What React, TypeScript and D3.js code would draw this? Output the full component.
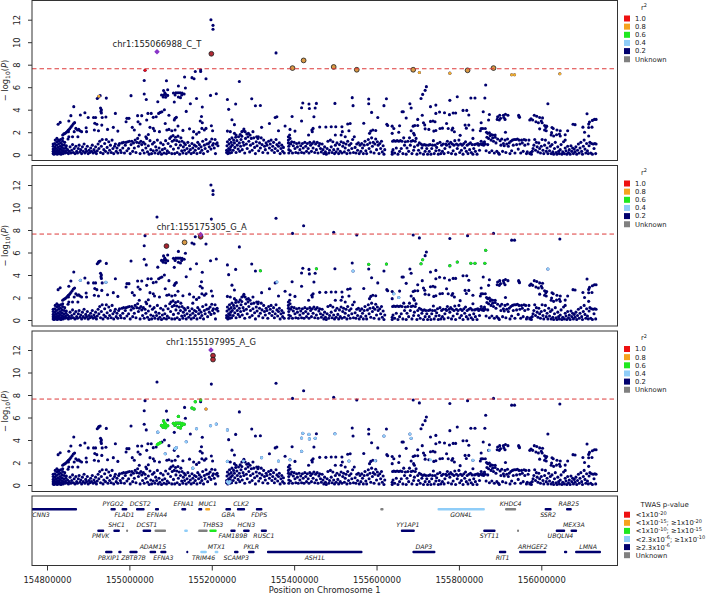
import React, { useEffect, useRef } from 'react';
import * as d3 from 'd3';

// positions are kb past the first tick (154800000)
const startPos = 154800000;
const xTicks = [154800000, 155000000, 155200000, 155400000, 155600000, 155800000, 156000000];
const yTicks = [0, 2, 4, 6, 8, 10, 12];
const gwasLine = 7.64;

type Pt = [number, number];

const snpsUpper: Pt[] = [
  [398, 12], [403, 11.5], [403, 11.15], [267, 9.15], [399, 8.97], [556, 9.05], [596, 7.7], [623, 8.38], [696, 7.8],
  [752, 7.55], [889, 7.55], [904, 7.3], [978, 7.25], [1021, 7.5], [1084, 7.7], [1128, 7.1], [1135, 7.1], [1245, 7.2],
  [238, 7.5], [236, 6.6], [290, 6.57], [334, 6.9], [352, 6.85], [357, 6.75], [360, 7.4], [373, 7.55], [373, 7.4],
  [386, 6.75], [467, 6.5], [336, 5.93], [319, 6.1], [293, 5.78], [283, 5.7], [286, 5.5], [278, 5.3], [283, 5.3],
  [288, 5.36], [293, 5.27], [282, 5.13], [288, 5.1], [269, 4.7], [307, 5.48], [313, 5.5], [318, 5.5], [323, 5.5],
  [328, 5.48], [311, 5.3], [319, 5.13], [327, 5.3], [333, 5.4], [309, 4.68], [324, 5.07], [348, 4.53], [363, 5],
  [377, 4.24], [397, 5.27], [411, 5.42], [438, 4.9], [441, 4.03], [458, 4.5], [497, 4.98], [506, 4.35], [518, 4.38],
  [554, 3.3], [558, 3.38], [595, 3.4], [621, 4.6], [618, 4.18], [636, 4.5], [637, 4.1], [654, 4.56], [651, 4.15],
  [648, 3.38], [618, 3], [699, 4.56], [741, 5.07], [743, 4.36], [144, 5.03], [122, 5], [125, 5.12], [126, 5.2],
  [129, 5.25], [204, 5.25], [236, 5.4], [241, 4.9], [65, 4.27], [130, 4.15], [132, 4], [131, 3.85], [132, 3.7],
  [921, 6.05], [918, 5.72], [912, 5.36], [908, 5], [1065, 6.2], [996, 5.15], [978, 4.83], [1029, 5.04], [1039, 5.04],
  [1063, 5.04], [781, 4.95], [781, 4.53], [824, 4.98], [818, 4.36], [881, 4.53], [884, 4.15], [931, 4.27], [944, 4.41],
  [1216, 4.53],
];

const snpsMidLeft: Pt[] = [
  [92, 3.73], [81, 3.53], [100, 3.3], [113, 3.3], [118, 3.3], [58, 3.47], [53, 3], [166, 3.67], [143, 3.35], [134, 3.3],
  [116, 2.8], [32, 2.87], [27, 2.7], [38, 1.75], [41, 1.85], [44, 1.9], [47, 2], [50, 2.1], [52, 2.2], [55, 2.3],
  [58, 2.45], [61, 2.6], [64, 2.75], [67, 2.85], [70, 2.34], [74, 2.2], [77, 2.25], [80, 2.13], [84, 2.05], [66, 2.05],
  [95, 2.4], [96, 2.05], [62, 1.6], [75, 1.6], [52, 2.05], [53, 1.6], [115, 2.2], [125, 2.13], [121, 2.7], [147, 2.25],
  [133, 2.63], [161, 2.43], [172, 2.1], [194, 3.23], [199, 3.23], [192, 2.93], [207, 2.43], [212, 2.2], [220, 3.47],
  [230, 3.47], [221, 2.93], [226, 2.73], [245, 3.67], [253, 3.67], [242, 3.08], [258, 3.32], [265, 3.38], [271, 3.67],
  [275, 3.76], [279, 3.82], [285, 4], [296, 3.5], [287, 2.78], [311, 3.23], [314, 3.32], [309, 3.08], [318, 2.55],
  [330, 2.16], [346, 2.3], [338, 3.85], [375, 3.4], [372, 3], [377, 2.84], [363, 1.83], [382, 2.2], [386, 2.34],
  [376, 2.34], [399, 2.58], [402, 2.13], [250, 2.43], [258, 2.34], [261, 2.13], [246, 1.8], [224, 1.75], [240, 1.6],
  [273, 2.05], [291, 2.2], [296, 2.25], [303, 2.13], [311, 2.2], [356, 2.05], [369, 2], [354, 1.5],
  [438, 2.1], [445, 2.05], [449, 3.1], [455, 2.67], [455, 1.9], [459, 1.75], [469, 1.8], [473, 2.05], [477, 2.13],
  [478, 2.28], [481, 2.05], [485, 1.84], [489, 1.9], [493, 1.75], [500, 2.05], [509, 1.6], [513, 1.6], [521, 2.43],
  [540, 2.78], [562, 2.13], [578, 2.55], [590, 2.25], [602, 2.1], [589, 1.75], [590, 1.45], [635, 1.75], [643, 2.2],
  [646, 2.34], [644, 2.05], [662, 2.46], [677, 2.46], [690, 2.49], [701, 2.49], [716, 2.49], [730, 2.73], [736, 2.78],
  [733, 2.13], [717, 2.05], [700, 1.75], [724, 1.6], [714, 1.75],
];

const snpsMidRight: Pt[] = [
  [788, 3.76], [862, 3.82], [865, 3.82], [872, 3.26], [803, 3.3], [1311, 3.64], [1010, 3.94], [1019, 3.94], [1024, 3.53],
  [1059, 3.82], [1074, 3.58], [944, 3.67], [953, 3.8], [965, 3.73], [977, 3.56], [986, 3.7], [992, 3.7], [911, 3.5],
  [900, 3.14], [1072, 3.08], [931, 2.96], [937, 3], [942, 2.93], [1094, 3.38], [1099, 3.5], [1108, 3.5], [1113, 3.6],
  [1119, 3.5], [1093, 3.14], [1098, 3.08], [1101, 3.23], [1109, 3.3], [1112, 3.14], [1145, 3.5], [1147, 3.32],
  [1146, 3.4], [1183, 3.5], [1175, 3.2], [1172, 3.08], [1179, 3.08], [1189, 3.42], [1196, 3.3], [1203, 3.27], [1187, 2.93],
  [1193, 2.84], [1200, 3], [1202, 2.84], [1196, 2.3], [1208, 2.6], [1211, 2.42], [1213, 2.54], [1208, 2.2], [1212, 2.13],
  [1226, 2.42], [1229, 2.33], [1238, 2.2], [1246, 2.13], [1225, 1.96], [1224, 1.75], [1230, 1.66], [1237, 1.77],
  [1244, 1.84], [1246, 1.66], [1258, 1.77], [1264, 2.13], [1258, 1.3], [1277, 2.7], [1282, 2.67], [1301, 2.45],
  [1317, 2.9], [1315, 2.72], [1324, 3.05], [1329, 3.14], [1333, 3.14], [1323, 2.45], [1315, 2.42], [1305, 2], [1315, 1.66],
  [769, 2.8], [825, 2.7], [827, 2.6], [838, 2.54], [842, 2.33], [856, 2.57], [838, 1.9], [854, 2], [786, 2.1], [791, 2.2],
  [798, 2.15], [783, 1.9], [889, 2.54], [893, 2.6], [900, 2.6], [884, 2.13], [890, 1.9], [892, 1.75], [914, 2.84],
  [917, 2.65], [918, 2.3], [927, 2.25], [939, 2.1], [944, 2.15], [954, 2.33], [960, 2.36], [970, 2.78], [974, 2.33],
  [983, 2.2], [985, 2.36], [989, 2.04], [1015, 2.63], [1024, 2.63], [1018, 2.36], [1034, 2.2], [1054, 2.84], [1054, 2.33],
  [1058, 2.33], [1052, 2.13], [1064, 2.33], [1067, 2], [1070, 1.9], [1074, 1.95], [1078, 1.8], [1082, 1.75], [1088, 1.75],
  [1113, 2], [1003, 1.72], [1034, 1.45],
];

const snpsLowLeft: Pt[] = [
  [15, 0.1], [15, 0.3], [15, 0.5], [15, 0.75], [15, 0.95], [16, 0.15], [17, 0.05], [18, 0.25], [18, 0.45], [19, 0.7],
  [19, 1], [20, 1.3], [21, 0.1], [22, 0.3], [22, 0.55], [23, 0.85], [24, 1.15], [24, 1.45], [25, 0.05], [26, 0.2],
  [26, 0.4], [27, 0.65], [28, 0.95], [28, 1.3], [29, 1.2], [30, 0.1], [30, 0.3], [31, 0.5], [32, 0.75], [33, 1.05],
  [33, 1.35], [34, 0.05], [35, 0.2], [36, 0.4], [36, 0.65], [37, 0.9], [38, 1.2], [38, 1.45], [39, 0.1], [40, 0.3],
  [41, 0.55], [42, 0.85], [43, 1.1], [44, 0.15], [45, 0.35], [46, 0.6], [47, 0.8], [48, 0.2], [50, 0.45], [51, 1.4],
  [52, 0.1], [54, 0.3], [56, 0.7], [58, 0.15], [60, 0.4], [62, 0.9], [64, 0.2], [66, 0.55], [68, 0.1], [70, 0.75],
  [72, 0.3], [74, 0.15], [76, 0.55], [78, 0.85], [80, 0.25], [82, 0.45], [84, 0.1], [86, 0.7], [88, 0.3], [90, 0.95],
  [92, 0.15], [94, 0.5], [96, 0.3], [98, 0.75], [100, 0.1], [102, 0.4], [104, 0.2], [106, 0.6], [108, 0.3], [110, 0.85],
  [112, 0.15], [114, 0.45], [116, 0.25], [118, 0.7], [120, 0.1], [122, 0.35], [124, 0.95], [126, 0.55], [128, 1.2],
  [130, 0.2], [132, 0.75], [134, 1.35], [136, 0.1], [138, 0.45], [140, 1], [142, 0.3], [144, 1.35], [146, 0.65],
  [148, 0.15], [150, 1.15], [152, 0.4], [154, 0.85], [156, 0.2], [158, 1.3], [160, 0.55], [162, 0.1], [164, 0.75],
  [166, 0.95], [168, 0.3], [170, 0.6], [172, 0.15], [174, 0.85], [176, 1], [178, 0.4], [180, 0.2], [182, 1.05],
  [184, 0.6], [186, 1.1], [188, 0.15], [190, 0.85], [192, 1.1], [194, 0.35], [196, 1.15], [198, 0.55], [200, 1.2],
  [202, 0.1], [204, 0.9], [206, 1.2], [208, 0.3], [210, 1.05], [212, 0.6], [214, 1.3], [216, 0.2], [218, 1.1], [220, 1.45],
  [222, 0.75], [224, 1.05], [226, 0.1], [228, 1.2], [230, 0.9], [232, 0.4], [234, 1.1], [236, 0.15], [238, 0.95],
  [240, 0.6], [242, 1.45], [244, 0.25], [246, 0.8], [248, 0.05], [250, 1.25], [252, 0.45], [254, 0.1], [256, 0.95],
  [258, 0.35], [260, 1.1], [262, 0.15], [264, 0.7], [266, 0.4], [268, 1.3], [270, 0.1], [272, 0.6], [274, 0.25],
  [276, 1.05], [278, 0.05], [280, 0.45], [282, 0.9], [284, 0.15], [286, 0.55], [288, 1.25], [290, 0.1], [292, 0.35],
  [294, 1], [296, 0.2], [298, 1.45], [300, 0.75], [301, 1.6], [303, 0.1], [304, 1.2], [306, 1.7], [307, 0.5], [309, 1.3],
  [310, 0.1], [312, 1.55], [313, 0.9], [315, 1.25], [316, 0.2], [318, 1.65], [319, 0.6], [321, 1.15], [322, 0.05],
  [324, 0.85], [325, 1.5], [327, 0.35], [328, 1.2], [330, 0.15], [331, 0.7], [333, 1.05], [334, 0.4], [336, 0.9],
  [338, 0.1], [340, 0.55], [342, 1.1], [344, 0.25], [346, 0.8], [348, 0.45], [350, 0.1], [352, 1], [354, 0.6], [356, 0.2],
  [358, 0.85], [360, 0.4], [362, 0.75], [364, 0.1], [366, 1.1], [368, 0.55], [370, 0.9], [372, 0.2], [374, 0.7],
  [376, 0.4], [378, 1.2], [380, 0.1], [382, 0.85], [384, 0.55], [386, 1.35], [388, 0.95], [390, 0.3], [392, 1],
  [394, 0.7], [396, 1.15], [398, 0.5], [400, 1.4], [402, 0.85], [404, 1], [406, 0.6], [408, 1.35], [409, 0.1], [411, 0.95],
  [413, 1.05], [415, 0.8],
];

const snpsLowMid: Pt[] = [
  [436, 0.2], [436, 0.4], [437, 0.8], [438, 1.15], [439, 0.1], [440, 0.3], [441, 0.55], [442, 0.95], [443, 1.35],
  [444, 0.15], [445, 0.45], [446, 0.7], [447, 1.1], [448, 0.2], [449, 1.5], [450, 0.85], [452, 0.4], [453, 1.3], [455, 1.05],
  [456, 0.65], [458, 1.55], [459, 0.2], [461, 1.25], [462, 0.85], [464, 0.5], [465, 1.6], [467, 1.05], [468, 0.3],
  [470, 0.75], [471, 1.35], [473, 1.65], [474, 0.45], [476, 1.1], [478, 0.85], [480, 0.15], [482, 1.45], [484, 0.95],
  [486, 0.55], [488, 1.6], [490, 1.2], [492, 0.25], [494, 0.85], [496, 1.45], [498, 0.4], [500, 1], [502, 1.5], [504, 0.65],
  [506, 0.1], [508, 1.15], [510, 0.8], [512, 1.45], [514, 0.35], [516, 1.05], [518, 0.6], [520, 1.5], [522, 0.9],
  [524, 0.2], [526, 1.3], [528, 0.75], [530, 0.45], [532, 1.05], [534, 0.85], [536, 0.15], [538, 1.2], [540, 0.6],
  [542, 0.95], [544, 1.3], [546, 0.4], [548, 0.75], [550, 1.1], [552, 0.2], [554, 0.55], [556, 1.35], [558, 0.9],
  [560, 0.35], [562, 0.75], [564, 1.05], [566, 0.1], [568, 0.55], [570, 0.85], [572, 0.3], [574, 0.65], [576, 0.15],
  [586, 1.6], [586, 1.3], [586, 1.05], [587, 0.75], [587, 0.45], [587, 0.15], [589, 1], [591, 0.35], [592, 0.95],
  [594, 1.15], [596, 0.15], [598, 0.8], [600, 1.1], [602, 0.55], [604, 0.2], [606, 1], [608, 0.7], [610, 0.15],
  [612, 1.05], [614, 0.45], [616, 0.8], [618, 0.2], [620, 1], [622, 0.6], [624, 0.15], [626, 1.1], [628, 0.75],
  [630, 0.3], [632, 1], [634, 0.55], [636, 0.15], [638, 1.1], [640, 0.85], [642, 0.3], [644, 1], [646, 0.6],
  [648, 1.15], [650, 0.2], [652, 0.95], [654, 0.45], [656, 1.1], [658, 0.15], [660, 0.8], [662, 1], [664, 0.55],
  [666, 0.25], [668, 0.95], [670, 0.45], [672, 0.1], [674, 0.7], [676, 0.25], [678, 0.05], [680, 0.55], [682, 1.2],
  [684, 0.15], [686, 0.4], [688, 1.3], [690, 0.7], [692, 0.2], [694, 1.15], [696, 0.45], [698, 0.1], [700, 0.85],
  [702, 0.25], [704, 1.05], [706, 0.5], [708, 0.1], [710, 0.9], [712, 0.3], [714, 1.15], [716, 0.15], [718, 0.75],
  [720, 1.05], [722, 0.25], [724, 0.6], [726, 0.95], [728, 0.1], [730, 1.2], [732, 0.4], [734, 0.85], [736, 0.15],
  [738, 1], [740, 0.55], [742, 1.35], [744, 0.2], [746, 1.6], [748, 0.65],
];

const snpsLowRight: Pt[] = [
  [750, 0.15], [752, 0.95], [754, 0.4], [756, 1.05], [758, 0.1], [760, 0.85], [762, 0.3], [764, 1], [766, 0.6],
  [768, 0.1], [770, 0.85], [772, 1.2], [774, 0.35], [776, 0.1], [778, 0.9], [780, 1.35], [782, 0.55], [784, 1.05],
  [786, 0.25], [788, 1.5], [790, 0.75], [792, 1.1], [794, 0.15], [796, 0.95], [798, 1.4], [800, 0.45], [802, 1.15],
  [804, 0.85], [806, 0.1], [808, 1], [810, 0.55], [812, 1.2], [814, 0.25], [816, 0.8], [818, 0.05], [820, 0.45],
  [838, 0.25], [838, 0.05], [839, 1.2], [840, 0.45], [842, 1.25], [844, 0.15], [846, 1.2], [848, 0.6], [850, 1.25],
  [852, 0.05], [854, 1.2], [856, 0.3], [858, 1.25], [860, 0.55], [862, 1.2], [864, 0.1], [866, 1.5], [868, 0.85],
  [870, 1.15], [872, 0.05], [874, 0.6], [876, 1.2], [878, 0.3], [880, 1.5], [882, 0.85], [884, 1.2], [886, 0.1],
  [888, 1.25], [890, 0.4], [892, 0.7], [894, 1.2], [896, 1.45], [898, 0.05], [900, 0.85], [902, 0.4], [904, 1.05],
  [906, 0.15], [908, 0.95], [910, 0.6], [912, 0.85], [914, 0.05], [916, 0.9], [918, 0.3], [920, 0.85], [922, 0.55],
  [924, 0.05], [926, 0.85], [928, 0.3], [930, 0.9], [932, 0.05], [934, 0.55], [936, 0.85], [938, 1.25], [940, 0.1],
  [942, 0.85], [944, 0.35], [946, 0.65], [948, 1], [950, 0.05], [952, 0.4], [954, 1.1], [956, 0.1], [958, 0.85],
  [960, 0.3], [962, 0.95], [964, 0.1], [966, 0.55], [968, 0.95], [970, 0.85], [972, 1.2], [974, 0.2], [976, 0.95],
  [978, 0.7], [980, 1.1], [982, 0.1], [984, 0.95], [986, 0.35], [988, 0.85], [990, 1.25], [992, 0.05], [994, 0.95],
  [996, 0.55], [998, 0.85], [1000, 1.3], [1002, 0.2], [1004, 0.95], [1006, 0.4], [1008, 0.85], [1010, 0.05], [1012, 1],
  [1014, 0.6], [1016, 1.15], [1018, 0.3], [1020, 0.85], [1022, 0.1], [1024, 0.95], [1026, 0.45], [1028, 1.05],
  [1030, 0.2], [1032, 0.9], [1034, 0.05], [1036, 0.55], [1038, 0.9], [1040, 0.3], [1042, 0.95], [1044, 0.05],
  [1046, 1], [1048, 0.85], [1050, 0.4], [1052, 0.95], [1054, 1.2], [1056, 0.9], [1058, 1], [1060, 0.85], [1062, 1.15],
  [1064, 0.95], [1066, 0.35], [1068, 1.55], [1070, 0.9], [1072, 1.45], [1074, 0.2], [1076, 1.7], [1078, 1.3], [1080, 0.35],
  [1082, 1.5], [1084, 1.2], [1086, 0.15], [1088, 1.55], [1090, 1.05], [1092, 0.3], [1094, 1.4], [1096, 0.15], [1098, 0.05],
  [1100, 1.25], [1102, 0.85], [1104, 1.4], [1106, 0.3], [1108, 1], [1110, 0.8], [1112, 1.3], [1114, 0.2], [1116, 0.95],
  [1118, 1.4], [1120, 0.75], [1122, 1.05], [1124, 0.1], [1126, 1.2], [1128, 0.35], [1130, 1.3], [1132, 0.85], [1134, 1.35],
  [1136, 0.15], [1138, 1.35], [1140, 0.9], [1142, 1.4], [1144, 0.5], [1146, 1.3], [1148, 0.95], [1150, 0.15], [1152, 1.3],
  [1154, 1.05], [1156, 0.3], [1158, 1.35], [1160, 0.85], [1162, 1.3], [1164, 0.1], [1166, 0.25], [1168, 0.95], [1170, 1.3],
  [1172, 0.1], [1174, 0.2], [1176, 0.05], [1178, 0.3], [1180, 0.55], [1182, 0.85], [1184, 1.35], [1186, 0.4], [1188, 1.1],
  [1190, 0.7], [1192, 0.25], [1194, 1.05], [1196, 0.55], [1198, 0.15], [1200, 0.75], [1202, 1.35], [1204, 0.4], [1206, 0.1],
  [1208, 0.85], [1210, 1.3], [1212, 0.3], [1214, 0.6], [1216, 0.1], [1218, 1.05], [1220, 0.35], [1222, 0.75], [1224, 0.1],
  [1226, 0.9], [1228, 0.25], [1230, 0.05], [1232, 0.55], [1234, 1.1], [1236, 0.2], [1238, 0.05], [1240, 0.7], [1242, 0.3],
  [1244, 0.1], [1246, 0.45], [1248, 0.9], [1250, 0.05], [1252, 0.25], [1254, 1.15], [1256, 0.1], [1258, 0.6], [1260, 0.35],
  [1262, 0.05], [1264, 0.75], [1266, 0.2], [1268, 0.45], [1270, 0.05], [1272, 0.8], [1274, 0.3], [1276, 0.6], [1278, 0.1],
  [1280, 0.5], [1282, 0.25], [1284, 0.7], [1286, 0.05], [1288, 0.4], [1290, 0.95], [1292, 0.15], [1294, 0.6], [1296, 1.1],
  [1298, 0.3], [1300, 0.05], [1302, 0.75], [1304, 1.3], [1306, 0.5], [1308, 0.15], [1310, 1], [1312, 0.35], [1314, 0.1],
  [1316, 0.8], [1318, 1.1], [1320, 0.15], [1322, 1], [1324, 0.05], [1326, 0.95], [1328, 0.55], [1330, 1], [1332, 0.1],
  [1333, 0.95],
];

const allSnps = [...snpsLowLeft, ...snpsLowMid, ...snpsLowRight, ...snpsMidLeft, ...snpsMidRight, ...snpsUpper];

// colouring per panel, lead snp and the LD overlays
const leadIds = ['chr1:155066988_C_T', 'chr1:155175305_G_A', 'chr1:155197995_A_G'];
const leadPts: Pt[] = [[267, 9.15], [373, 7.6], [398, 12]];

const p1RingRed: Pt[] = [[399, 8.97]];
const p1RingOrange: Pt[] = [[596, 7.7], [623, 8.38], [696, 7.8], [752, 7.55], [889, 7.55], [1021, 7.5], [1084, 7.7]];
const p1Orange: Pt[] = [[126, 5.2], [904, 7.3], [978, 7.25], [1128, 7.1], [1135, 7.1], [1245, 7.2]];
const p1Red: Pt[] = [[238, 7.5]];

const p2RingRed: Pt[] = [[290, 6.57], [373, 7.4]];
const p2RingOrange: Pt[] = [[334, 6.9]];
const p2Green: Pt[] = [[518, 4.38], [654, 4.56], [781, 4.95], [824, 4.98], [908, 5], [912, 5.36], [978, 4.83], [996, 5.15], [1029, 5.04], [1039, 5.04], [1065, 6.2], [1063, 5.04]];
const p2Blue: Pt[] = [[81, 3.53], [143, 3.35], [558, 3.38], [1216, 4.53], [842, 2.33], [854, 2], [743, 4.36]];

const p3RingRed: Pt[] = [[403, 11.5], [403, 11.15]];
const p3Green: Pt[] = [
  [352, 6.85], [357, 6.75], [360, 7.4], [373, 7.55], [319, 6.1], [283, 5.7], [286, 5.5], [278, 5.3], [283, 5.3], [288, 5.36],
  [293, 5.27], [282, 5.13], [288, 5.1], [307, 5.48], [313, 5.5], [318, 5.5], [323, 5.5], [328, 5.48], [311, 5.3], [319, 5.13],
  [327, 5.3], [333, 5.4], [324, 5.07], [271, 3.67], [275, 3.76], [268, 3.6],
];
const p3Orange: Pt[] = [[386, 6.75]];
const p3Blue: Pt[] = [
  [269, 4.7], [363, 5], [397, 5.27], [411, 5.42], [438, 4.9], [338, 3.85], [314, 3.32], [311, 3.23], [287, 2.78], [354, 1.5],
  [438, 2.1], [441, 0.15], [438, 0.3], [444, 0.3], [477, 2.13], [521, 2.43], [562, 2.13], [590, 2.25], [621, 4.6], [618, 4.18],
  [636, 4.5], [637, 4.1], [651, 4.15], [618, 3], [699, 4.56], [733, 2.13], [818, 4.36], [881, 4.53], [884, 4.15], [797, 2.15],
  [931, 2.25], [1034, 2.2], [1074, 3.08],
];

const r2Labels = ['1.0', '0.8', '0.6', '0.4', '0.2', 'Unknown'];
const legendColors = ['#ee1111', '#f5a31e', '#1fe81f', '#8fcdf8', '#00006e', '#808080'];

// [name, row, start kb, end kb, label side, colour index]
type Gene = [string, number, number, number, number, number];
const genes: Gene[] = [
  ['TCNN3', 0, -111, 73, 1, 4], ['PYGO2', 0, 154, 167, -1, 4], ['FLAD1', 0, 181, 195, 1, 4], ['DCST2', 0, 216, 237, -1, 4],
  ['EFNA4', 0, 262, 272, 1, 4], ['EFNA1', 0, 326, 338, -1, 4], ['', 0, 367, 377, -1, 4], ['MUC1', 0, 384, 396, -1, 1],
  ['GBA', 0, 433, 447, 1, 4], ['CLK2', 0, 461, 481, -1, 4], ['FDPS', 0, 507, 523, 1, 4], ['', 0, 809, 817, 1, 5],
  ['GON4L', 0, 948, 1063, 1, 3], ['KHDC4', 0, 1112, 1139, -1, 5], ['SSR2', 0, 1208, 1225, 1, 4], ['RAB25', 0, 1260, 1274, -1, 4],
  ['PMVK', 1, 122, 139, 1, 4], ['SHC1', 1, 161, 177, -1, 4], ['', 1, 192, 197, 1, 5], ['DCST1', 1, 232, 253, -1, 4],
  ['', 1, 261, 289, 1, 5], ['', 1, 333, 342, 1, 3], ['', 1, 367, 390, 1, 5], ['THBS3', 1, 394, 412, -1, 2],
  ['FAM189B', 1, 445, 458, 1, 4], ['HCN3', 1, 476, 492, -1, 4], ['RUSC1', 1, 519, 534, 1, 4], ['YY1AP1', 1, 859, 893, -1, 4],
  ['SYT11', 1, 1059, 1089, 1, 4], ['', 1, 1141, 1146, 1, 5], ['UBQLN4', 1, 1235, 1258, 1, 4], ['MEX3A', 1, 1271, 1287, -1, 4],
  ['PBXIP1', 2, 141, 159, 1, 4], ['', 2, 173, 181, 1, 4], ['ZBTB7B', 2, 200, 220, 1, 4], ['ADAM15', 2, 249, 265, -1, 4],
  ['EFNA3', 2, 275, 290, 1, 4], ['', 2, 338, 343, 1, 4], ['TRIM46', 2, 372, 388, 1, 3], ['MTX1', 2, 407, 416, -1, 3],
  ['SCAMP3', 2, 454, 465, 1, 4], ['PKLR', 2, 488, 504, -1, 4], ['ASH1L', 2, 534, 766, 1, 4], ['DAP3', 2, 887, 943, -1, 4],
  ['RIT1', 2, 1097, 1115, 1, 4], ['ARHGEF2', 2, 1146, 1212, -1, 4], ['', 2, 1255, 1263, 1, 4], ['LMNA', 2, 1282, 1345, -1, 4],
];

// base text + superscript, pairs in order
const twasLabels: string[][] = [
  ['<1x10', '-20'],
  ['<1x10', '-15', '; \u22651x10', '-20'],
  ['<1x10', '-10', '; \u22651x10', '-15'],
  ['<2.3x10', '-6', '; \u22651x10', '-10'],
  ['\u22652.3x10', '-6'],
  ['Unknown'],
];

const font = '"DejaVu Sans", sans-serif';
const plotLeft = 32;
const plotRight = 617.5;
const panels = [
  { top: 0.5, bottom: 160.5, zero: 154.7, twelve: 19.7, id: 0, labelX: 157, labelY: 44 },
  { top: 165.5, bottom: 326, zero: 320, twelve: 185, id: 1, labelX: 201.7, labelY: 227 },
  { top: 331, bottom: 491.5, zero: 485, twelve: 350, id: 2, labelX: 211, labelY: 342 },
];
const geneTop = 496;
const geneBottom = 565.5;
const rowY = [509.3, 530.7, 552];

export default function App() {
  const svgRef = useRef<SVGSVGElement>(null);

  useEffect(() => {
    if (!svgRef.current) return;
    const svg = d3.select(svgRef.current);
    svg.selectAll('*').remove();

    const x = d3.scaleLinear().domain([154800000, 156000000]).range([47, 541.3]);
    const kbX = (kb: number) => x(startPos + kb * 1000);

    const dots = (g: any, pts: Pt[], y: any, color: string, r: number, ring = false) => {
      g.append('g')
        .selectAll('circle')
        .data(pts)
        .enter()
        .append('circle')
        .attr('cx', (d: Pt) => kbX(d[0]))
        .attr('cy', (d: Pt) => y(d[1]))
        .attr('r', r)
        .attr('fill', color)
        .attr('stroke', ring ? '#1a1a1a' : 'none')
        .attr('stroke-width', ring ? 0.8 : 0);
    };

    panels.forEach(p => {
      const y = d3.scaleLinear().domain([0, 12]).range([p.zero, p.twelve]);
      const g = svg.append('g');

      dots(g, allSnps, y, '#00006e', 1.55);

      if (p.id === 0) {
        dots(g, p1Red, y, '#ee1111', 1.45);
        dots(g, p1Orange, y, '#f0b030', 1.5);
        dots(g, p1RingRed, y, '#b02a35', 2.4, true);
        dots(g, p1RingOrange, y, '#d99a45', 2.4, true);
      } else if (p.id === 1) {
        dots(g, p2Green, y, '#1fe81f', 1.55);
        dots(g, p2Blue, y, '#8fcdf8', 1.55);
        dots(g, p2RingRed, y, '#a8232e', 2.4, true);
        dots(g, p2RingOrange, y, '#d99a45', 2.4, true);
      } else {
        dots(g, p3Green, y, '#1fe81f', 1.7);
        dots(g, p3Blue, y, '#8fcdf8', 1.55);
        dots(g, p3Orange, y, '#f5a31e', 1.5);
        dots(g, p3RingRed, y, '#b02a35', 2.4, true);
      }

      const lead = leadPts[p.id];
      g.append('path')
        .attr('d', d3.symbol(d3.symbolSquare, 15)()!)
        .attr('transform', `translate(${kbX(lead[0])},${y(lead[1])}) rotate(45)`)
        .attr('fill', '#8a35c9');

      g.append('line')
        .attr('x1', plotLeft)
        .attr('x2', plotRight)
        .attr('y1', y(gwasLine))
        .attr('y2', y(gwasLine))
        .attr('stroke', '#dd3a3a')
        .attr('stroke-width', 1)
        .attr('stroke-dasharray', '4.5,3');

      g.append('text')
        .attr('x', p.labelX)
        .attr('y', p.labelY)
        .attr('dy', '0.35em')
        .attr('text-anchor', 'middle')
        .attr('font-family', font)
        .attr('font-size', 8.4)
        .attr('fill', '#222')
        .text(leadIds[p.id]);

      g.append('rect')
        .attr('x', plotLeft)
        .attr('y', p.top)
        .attr('width', plotRight - plotLeft)
        .attr('height', p.bottom - p.top)
        .attr('fill', 'none')
        .attr('stroke', '#333')
        .attr('stroke-width', 1);

      const axis = g
        .append('g')
        .attr('transform', `translate(${plotLeft},0)`)
        .call(d3.axisLeft(y).tickValues(yTicks).tickFormat(d3.format('d') as any).tickSize(4).tickPadding(7));
      axis.select('.domain').remove();
      axis.selectAll('line').attr('stroke', '#333');
      axis
        .selectAll('text')
        .attr('font-family', font)
        .attr('font-size', 8.4)
        .attr('fill', '#222')
        .attr('dy', null)
        .attr('text-anchor', 'middle')
        .attr('transform', 'translate(-12.5,0) rotate(-90)')
        .attr('x', 0)
        .attr('y', 0);

      const yLabelMid = (p.top + p.bottom) / 2;
      const label = g
        .append('text')
        .attr('transform', `translate(8,${yLabelMid}) rotate(-90)`)
        .attr('text-anchor', 'middle')
        .attr('font-family', font)
        .attr('font-size', 8.4)
        .attr('fill', '#222');
      label.append('tspan').text('\u2212 log');
      label.append('tspan').attr('font-size', 6).attr('dy', 2).text('10');
      label.append('tspan').attr('dy', -2).text('(');
      label.append('tspan').attr('font-style', 'italic').text('P');
      label.append('tspan').text(')');

      // r2 legend
      const leg = g.append('g');
      const title = leg
        .append('text')
        .attr('x', 641)
        .attr('y', p.top + 9)
        .attr('font-family', font)
        .attr('font-size', 6.8)
        .attr('fill', '#222');
      title.append('tspan').text('r');
      title.append('tspan').attr('font-size', 5).attr('dy', -2.5).text('2');
      r2Labels.forEach((t, i) => {
        const cy = p.top + 18 + i * 8.15;
        leg.append('rect').attr('x', 624).attr('y', cy - 3).attr('width', 6).attr('height', 6).attr('fill', legendColors[i]);
        leg
          .append('text')
          .attr('x', 635)
          .attr('y', cy)
          .attr('dy', '0.35em')
          .attr('font-family', font)
          .attr('font-size', 6.8)
          .attr('fill', '#222')
          .text(t);
      });
    });

    // gene track
    const track = svg.append('g');
    const clipId = 'gene-clip';
    track
      .append('clipPath')
      .attr('id', clipId)
      .append('rect')
      .attr('x', plotLeft)
      .attr('y', geneTop)
      .attr('width', plotRight - plotLeft)
      .attr('height', geneBottom - geneTop);
    const inner = track.append('g').attr('clip-path', `url(#${clipId})`);
    genes.forEach(([name, row, s, e, side, c]) => {
      inner
        .append('rect')
        .attr('x', kbX(s))
        .attr('y', rowY[row] - 1.3)
        .attr('width', kbX(e) - kbX(s))
        .attr('height', 2.6)
        .attr('rx', 1)
        .attr('fill', legendColors[c]);
      if (!name) return;
      inner
        .append('text')
        .attr('x', kbX((s + e) / 2))
        .attr('y', rowY[row] + side * 5.6)
        .attr('dy', '0.35em')
        .attr('text-anchor', 'middle')
        .attr('font-family', font)
        .attr('font-size', 6.2)
        .attr('font-style', 'italic')
        .attr('fill', '#222')
        .text(name);
    });
    track
      .append('rect')
      .attr('x', plotLeft)
      .attr('y', geneTop)
      .attr('width', plotRight - plotLeft)
      .attr('height', geneBottom - geneTop)
      .attr('fill', 'none')
      .attr('stroke', '#333')
      .attr('stroke-width', 1);

    const xAxis = track
      .append('g')
      .attr('transform', `translate(0,${geneBottom})`)
      .call(d3.axisBottom(x).tickValues(xTicks).tickFormat(d3.format('d') as any).tickSize(5).tickPadding(7));
    xAxis.select('.domain').remove();
    xAxis.selectAll('line').attr('stroke', '#333');
    xAxis.selectAll('text').attr('font-family', font).attr('font-size', 8.4).attr('fill', '#222');

    track
      .append('text')
      .attr('x', 324.7)
      .attr('y', 593.2)
      .attr('text-anchor', 'middle')
      .attr('font-family', font)
      .attr('font-size', 8.4)
      .attr('fill', '#222')
      .text('Position on Chromosome 1');

    // TWAS legend
    const twas = svg.append('g');
    twas
      .append('text')
      .attr('x', 664.7)
      .attr('y', 504.3)
      .attr('dy', '0.35em')
      .attr('text-anchor', 'middle')
      .attr('font-family', font)
      .attr('font-size', 7)
      .attr('fill', '#222')
      .text('TWAS p-value');
    twasLabels.forEach((segs, i) => {
      const cy = 514.7 + i * 8.1;
      twas.append('rect').attr('x', 624).attr('y', cy - 3).attr('width', 6).attr('height', 6).attr('fill', legendColors[i]);
      const t = twas
        .append('text')
        .attr('x', 635.7)
        .attr('y', cy + 2.5)
        .attr('font-family', font)
        .attr('font-size', 6.8)
        .attr('fill', '#222');
      segs.forEach((seg, k) => {
        const sup = k % 2 === 1;
        t.append('tspan')
          .attr('font-size', sup ? 5 : 6.8)
          .attr('dy', k === 0 ? 0 : sup ? -2.5 : 2.5)
          .text(seg);
      });
    });
  }, []);

  return <svg ref={svgRef} width={708} height={594} style={{ position: 'absolute', left: 0, top: 0 }} />;
}
